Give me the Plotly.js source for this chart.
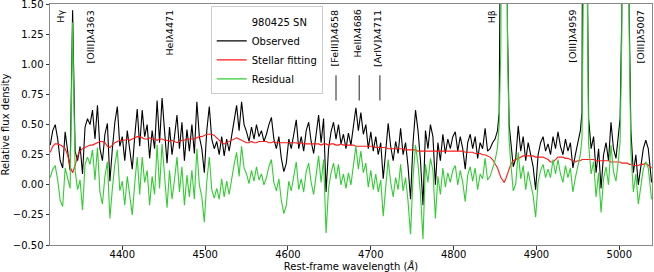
<!DOCTYPE html>
<html>
<head>
<meta charset="utf-8">
<script src="https://cdn.plot.ly/plotly-3.0.1.min.js"></script>
<style>html,body{margin:0;padding:0;background:#fff}#chart{width:654px;height:272px}</style>
</head>
<body>
<div id="chart"></div>
<script>
// Rest-frame wavelength (Angstrom)
const wavelength = [
4313,4316,4319,4322,4325,4328,4331,4334,4337,4340,4343,4346,4349,4352,4355,4358,4361,4364,4367,4370,4373,4376,4379,4382,4385,4388,4391,4394,4397,4400,
4403,4406,4409,4412,4415,4418,4421,4424,4427,4430,4433,4436,4439,4442,4445,4448,4451,4454,4457,4460,4463,4466,4469,4472,4475,4478,4481,4484,4487,4490,4493,4496,4499,4502,4505,4508,
4511,4514,4517,4520,4523,4526,4529,4532,4535,4538,4541,4544,4547,4550,4553,4556,4559,4562,4565,4568,4571,4574,4577,4580,4583,4586,4589,4592,4595,4598,4601,4604,4607,
4610,4613,4616,4619,4622,4625,4628,4631,4634,4637,4640,4643,4646,4649,4652,4655,4658,4661,4664,4667,4670,4673,4676,4679,4682,4685,4688,4691,4694,4697,4700,
4703,4706,4709,4712,4715,4718,4721,4724,4727,4730,4733,4736,4739,4742,4745,4748,4751,4754,4757,4760,4763,4766,4769,4772,4775,4778,4781,4784,4787,4790,4793,4796,4799,
4802,4805,4808,4811,4814,4817,4820,4823,4826,4829,4832,4835,4838,4841,4844,4847,4850,4853,4855,4857,4859,4861,4863,4865,4867,
4869,4872,4875,4878,4881,4884,4887,4890,4893,4896,4899,4902,4905,4908,4911,4914,4917,4920,4923,4926,4929,4932,4935,4938,4941,4944,4947,4950,4953,4955,4957,4959,4961,
4963,4966,4969,4972,4975,4978,4981,4984,4987,4990,4993,4996,4999,5001,5003,5005,5007.5,5010,5012,5014,5017,5020,5023,5026,5029,5032,5035,5039
];
const observed = [
.33,.45,.50,.38,.20,.14,.44,.30,.12,1.45,.28,.20,.32,.09,.48,.55,.50,.62,.38,.66,.30,.20,.42,.51,.03,.30,.52,.65,.32,.40,
.20,.45,.30,.13,.40,.63,.32,.62,.40,.50,.22,.45,.30,.70,.35,.72,.45,.18,.48,.25,.40,.58,.30,.52,.20,.46,.28,.50,.26,.69,.40,.30,.10,.45,.65,.38,
.30,.36,.25,.40,.24,.38,.28,.42,.55,.66,.45,.69,.50,.44,.36,.48,.38,.50,.40,.45,.36,.42,.50,.56,.38,.30,.40,.22,.11,.18,.38,.30,.42,
.54,.30,.40,.28,.45,.52,.36,.26,.40,.58,.35,.55,-.06,.30,.44,.52,.38,.50,.34,.42,.30,.43,.33,.48,.64,.45,.60,.42,.50,.30,.44,
.28,.40,.25,.35,.05,.30,.51,.32,.20,.36,.26,.47,.25,.35,.15,-.12,.35,.62,.45,.20,-.17,.45,.30,.50,.40,.00,.35,.20,.42,.26,.38,.30,.40,
.44,.28,.40,.30,.13,.35,.42,.30,.40,.22,.35,.30,.47,.28,.30,.35,.38,.45,.60,1.2,4.5,7.0,4.5,1.3,.50,
.35,.15,.22,.49,.28,.40,.20,.35,.25,.15,-.04,.25,.35,.40,.28,.34,.25,.40,.30,.44,.32,.25,.38,.28,.35,.14,.25,.35,.45,.60,2.1,12,2.1,
.55,.30,.40,.10,.30,-.03,.25,.35,.20,.52,.30,.22,.40,.55,1.4,8,30,8,1.4,.45,.10,.25,.00,.15,.30,.37,.30,.02
];
const stellarFit = [
.27,.32,.34,.34,.33,.32,.30,.25,.15,.10,.16,.24,.28,.30,.31,.32,.33,.33,.34,.35,.36,.36,.35,.32,.31,.33,.35,.36,.37,.37,
.37,.38,.37,.38,.39,.40,.40,.39,.38,.38,.39,.38,.38,.37,.38,.38,.37,.37,.36,.37,.36,.35,.36,.37,.37,.38,.38,.38,.38,.39,.40,.40,.41,.42,.42,.42,
.41,.39,.37,.35,.34,.35,.36,.37,.38,.39,.38,.37,.36,.35,.35,.36,.35,.35,.36,.36,.36,.36,.35,.35,.36,.35,.35,.35,.35,.35,.35,.35,.35,
.35,.34,.35,.34,.34,.34,.34,.34,.34,.34,.33,.34,.34,.33,.34,.34,.33,.33,.34,.33,.33,.33,.33,.33,.32,.32,.32,.32,.32,.32,.32,
.32,.31,.31,.31,.31,.31,.30,.30,.30,.30,.30,.30,.30,.29,.29,.29,.29,.29,.28,.28,.28,.28,.28,.28,.28,.28,.28,.28,.28,.28,.28,.28,.28,
.28,.28,.28,.28,.27,.27,.27,.27,.26,.26,.26,.25,.25,.24,.23,.21,.18,.14,.10,.06,.04,.02,.05,.09,.13,
.17,.20,.21,.22,.23,.24,.24,.24,.24,.24,.23,.23,.23,.23,.22,.21,.19,.19,.21,.23,.23,.23,.22,.22,.21,.20,.19,.20,.20,.21,.21,.21,.21,
.21,.21,.21,.20,.20,.20,.20,.20,.20,.19,.19,.19,.19,.19,.18,.18,.18,.18,.17,.17,.16,.16,.16,.17,.17,.18,.16,.14
];
const residual = [
.06,.13,.16,.04,-.13,-.18,.14,.05,-.03,1.35,.12,-.04,.04,-.21,.17,.23,.17,.29,.04,.31,-.06,-.16,.07,.19,-.28,-.03,.17,.29,-.05,.03,
-.17,.07,-.07,-.25,.01,.23,-.08,.23,.02,.12,-.17,.07,-.08,.33,-.03,.34,.08,-.19,.12,-.12,.04,.23,-.06,.15,-.17,.08,-.10,.12,-.12,.30,.00,-.10,-.31,.03,.23,-.04,
-.11,-.03,-.12,.05,-.10,.03,-.08,.05,.17,.27,.07,.32,.14,.09,.01,.12,.03,.15,.04,.09,.00,.06,.15,.21,.02,-.05,.05,-.13,-.24,-.17,.03,-.05,.07,
.19,-.04,.05,-.06,.11,.18,.02,-.08,.06,.24,.02,.21,-.40,-.03,.10,.18,.05,.17,.00,.09,-.03,.10,.00,.15,.32,.13,.28,.10,.18,-.02,.12,
-.04,.09,-.06,.04,-.26,-.01,.21,.02,-.10,.06,-.04,.17,-.05,.06,-.14,-.41,.06,.33,.17,-.08,-.45,.17,.02,.22,.12,-.28,.07,-.08,.14,-.02,.10,.02,.12,
.16,.00,.12,.02,-.14,.08,.15,.03,.14,-.04,.09,.05,.22,.04,.07,.14,.20,.31,.50,1.14,4.46,6.98,4.45,1.21,.37,
.18,-.05,.01,.27,.05,.16,-.04,.11,.01,-.09,-.27,.02,.12,.17,.06,.13,.06,.21,.09,.21,.09,.02,.16,.06,.14,-.06,.06,.15,.25,.39,1.89,11.79,1.89,
.34,.09,.19,-.10,.10,-.23,.05,.15,.00,.33,.11,.03,.21,.36,1.22,7.82,29.82,7.82,1.23,.28,-.06,.09,-.16,-.02,.13,.19,.14,-.12
];

// Line identifications
const lineLabels = ["H\u03b3","[OIII]\u03bb4363","HeI\u03bb4471","[FeIII]\u03bb4658","HeII\u03bb4686","[ArIV]\u03bb4711","H\u03b2","[OIII]\u03bb4959","[OIII]\u03bb5007"];
const lineLabelWave = [4325,4362,4457,4656,4684,4708,4846,4943,5026];
const markerWaves = [4658,4686,4711];

const seriesNames = ["980425 SN","Observed","Stellar fitting","Residual"];

const FONT = "DejaVu Sans, sans-serif";

const traces = [
  {x:[4000], y:[-10], type:'scatter', mode:'lines', name:seriesNames[0],
   line:{color:'rgba(0,0,0,0)', width:1}, hoverinfo:'skip'},
  {x:wavelength, y:observed, type:'scatter', mode:'lines', name:seriesNames[1],
   line:{color:'#000000', width:1.1}, hoverinfo:'skip'},
  {x:wavelength, y:stellarFit, type:'scatter', mode:'lines', name:seriesNames[2],
   line:{color:'#ff1a1a', width:1.1}, hoverinfo:'skip'},
  {x:wavelength, y:residual, type:'scatter', mode:'lines', name:seriesNames[3],
   line:{color:'#33cc33', width:1.1}, hoverinfo:'skip'}
];

const annotations = lineLabels.map((t,i)=>({
  x: lineLabelWave[i], y: 1.46, xref:'x', yref:'y',
  text: t, showarrow:false, textangle:-90,
  xanchor:'center', yanchor:'top', borderpad:0,
  font:{family:FONT, size:9.5, color:'#000'}
}));

const shapes = markerWaves.map(w=>({
  type:'line', xref:'x', yref:'y', x0:w, x1:w, y0:0.70, y1:0.91,
  line:{color:'#222', width:1}
}));

const layout = {
  width:654, height:272,
  margin:{l:50, r:2, t:4, b:27},
  paper_bgcolor:'#ffffff', plot_bgcolor:'#ffffff',
  font:{family:FONT, size:10, color:'#000'},
  showlegend:true,
  legend:{x:0.267, y:0.99, xanchor:'left', yanchor:'top',
    bgcolor:'rgba(255,255,255,0.85)', bordercolor:'#cccccc', borderwidth:1,
    font:{family:FONT, size:10, color:'#000'}, traceorder:'normal'},
  xaxis:{range:[4312.7,5039.5], dtick:100, tick0:4400, showgrid:false, zeroline:false,
    showline:true, linecolor:'#888', linewidth:1, mirror:true,
    ticks:'outside', ticklen:3.5, tickcolor:'#333', tickwidth:1, ticklabelstandoff:-4,
    tickfont:{family:FONT, size:10, color:'#000'},
    title:{text:'Rest-frame wavelength (<i>Å</i>)', font:{family:FONT, size:10, color:'#000'}, standoff:0}},
  yaxis:{range:[-0.5,1.502], dtick:0.25, tick0:0, tickformat:'.2f', showgrid:false, zeroline:false,
    showline:true, linecolor:'#888', linewidth:1, mirror:true, ticklabeloverflow:'allow',
    ticks:'outside', ticklen:3.5, tickcolor:'#333', tickwidth:1,
    tickfont:{family:FONT, size:10, color:'#000'},
    title:{text:'Relative flux density', font:{family:FONT, size:10, color:'#000'}, standoff:6}},
  annotations: annotations,
  shapes: shapes
};

Plotly.newPlot('chart', traces, layout, {staticPlot:true, displayModeBar:false});
</script>
</body>
</html>
